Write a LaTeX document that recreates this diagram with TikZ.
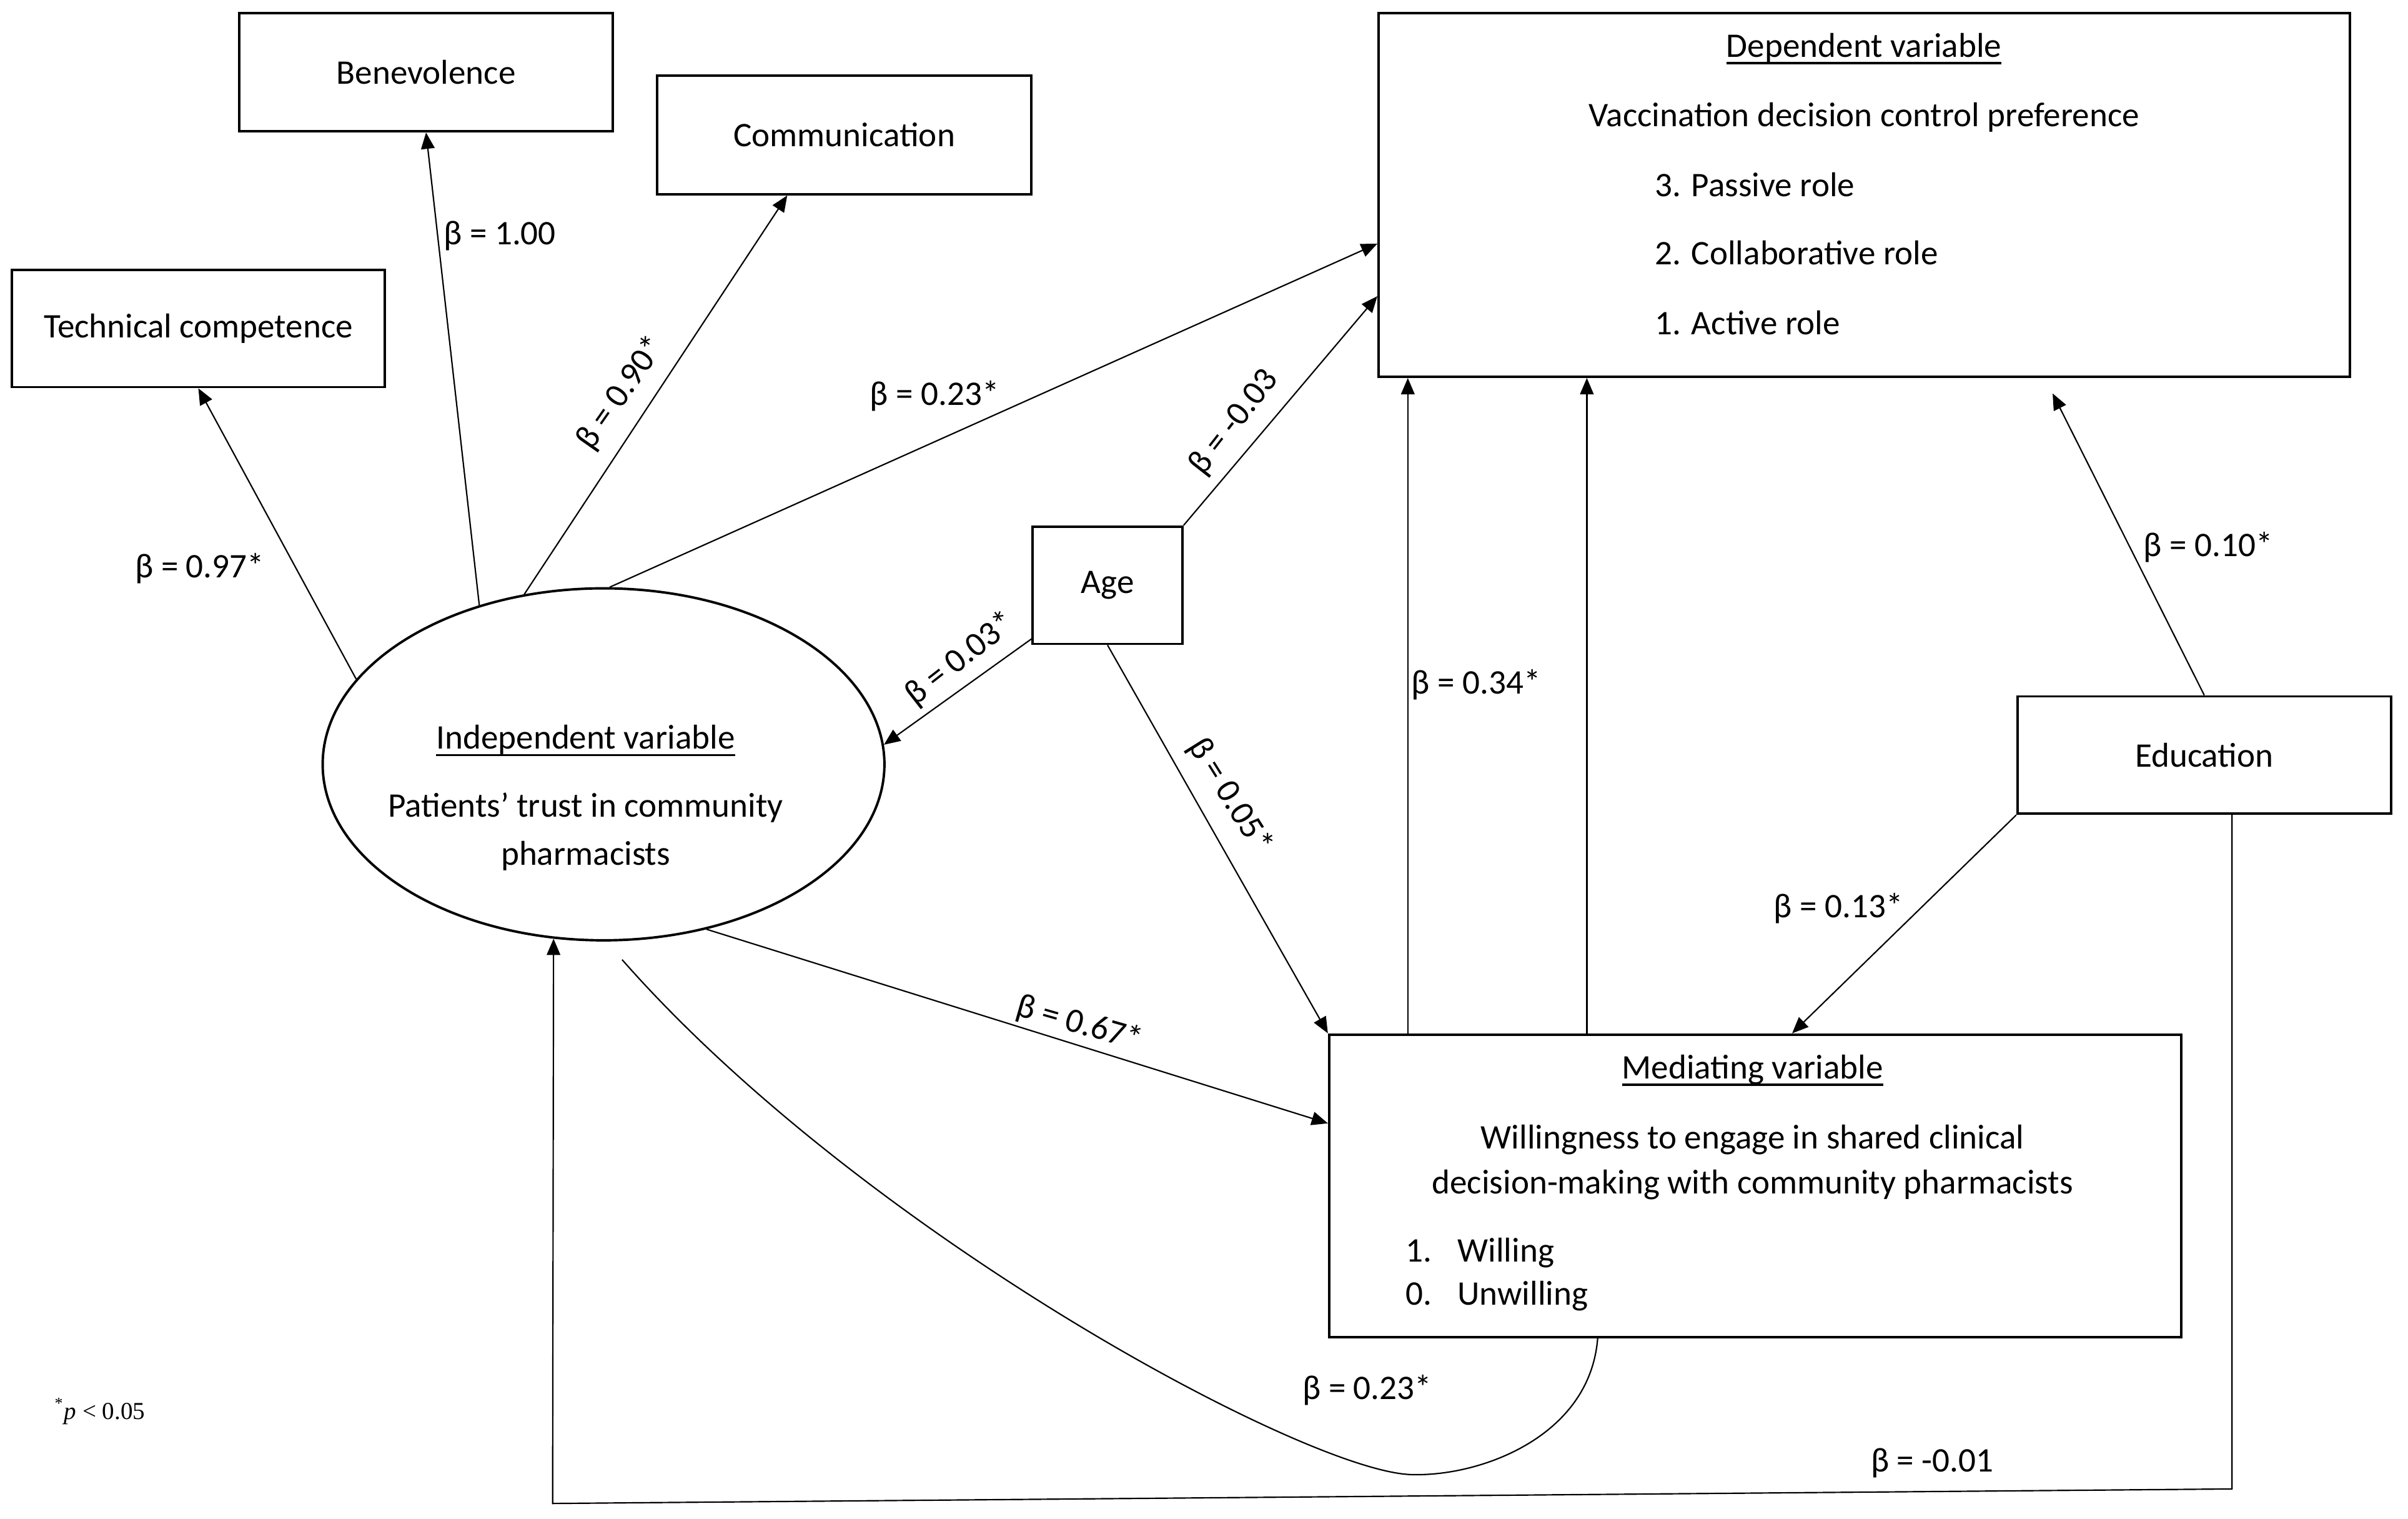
\documentclass[tikz,border=0pt]{standalone}
\usepackage{fontspec}
\setmainfont{Carlito}
\newfontfamily\notefont{Liberation Serif}
\newcommand\ulvar[1]{\setbox0\hbox{#1}\rlap{\raisebox{-2.6pt}{\rule{\wd0}{0.8pt}}}\box0}
\usetikzlibrary{arrows.meta,shapes.geometric}

\begin{document}
\begin{tikzpicture}[x=0.02cm, y=-0.02cm, font=\fontsize{12.7}{15}\selectfont,
	box/.style={draw, line width=0.9pt, inner sep=0pt},
	arr/.style={-{Triangle[length=6pt,width=5pt]}, line width=0.5pt},
	txt/.style={inner sep=0pt, text height=8pt, text depth=2pt}]
		\useasboundingbox (0,0) rectangle (1560,983.4);
		\node[box, minimum width=4.84cm, minimum height=1.53cm] (benev) at (276,46.8) {Benevolence};
		\node[box, minimum width=4.85cm, minimum height=1.54cm] (comm) at (547,87.3) {Communication};
		\node[box, minimum width=4.83cm, minimum height=1.52cm] (tech) at (128.5,212.7) {Technical competence};
		\node[box, minimum width=12.59cm, minimum height=4.71cm] (dep) at (1207.8,126.3) {};
		\node[txt] (deptitle) at (1207.6,31.8) {\ulvar{Dependent variable}};
		\node[txt] (depname) at (1207.6,76.7) {Vaccination decision control preference};
		\node[txt, anchor=west] (dep3) at (1071.8,122) {3. Passive role};
		\node[txt, anchor=west] (dep2) at (1071.8,166) {2. Collaborative role};
		\node[txt, anchor=west] (dep1) at (1071.8,211.5) {1. Active role};
		\node[box, minimum width=1.94cm, minimum height=1.52cm] (age) at (717.5,379) {Age};
		\node[box, minimum width=4.84cm, minimum height=1.52cm] (edu) at (1428,489) {Education};
		\node[box, ellipse, minimum width=7.28cm, minimum height=4.56cm] (trust) at (391,495) {};
		\node[txt] (trusttitle) at (379.4,479.8) {\ulvar{Independent variable}};
		\node[txt] (trustname1) at (379.4,524) {Patients’ trust in community};
		\node[txt] (trustname2) at (379.4,554.8) {pharmacists};
		\node[box, minimum width=11.04cm, minimum height=3.92cm] (med) at (1137,768) {};
		\node[txt] (medtitle) at (1135.4,693.4) {\ulvar{Mediating variable}};
		\node[txt] (medname1) at (1135.4,738.6) {Willingness to engage in shared clinical};
		\node[txt] (medname2) at (1135.4,767.9) {decision-making with community pharmacists};
		\node[txt, anchor=west] (med1) at (910.5,812) {\makebox[1.5em][l]{1.}Willing};
		\node[txt, anchor=west] (med0) at (910.5,839.7) {\makebox[1.5em][l]{0.}Unwilling};

		\draw[arr] (trust.161) -- (tech.south);
		\draw[arr] (trust.128) -- (benev.south);
		\draw[arr] (trust.115) -- ([xshift=-0.74cm]comm.south);
		\draw[arr] (trust.88) -- ([yshift=-0.63cm]dep.west);
		\draw[arr] (age.north east) -- ([yshift=-1.31cm]dep.west);
		\draw[arr] ([yshift=0.08cm]age.south west) -- (trust.4);
		\draw[arr] (age.south) -- (med.north west);
		\draw[arr] (trust.-58) -- ([yshift=0.81cm]med.west);
		\draw[arr] ([xshift=-4.5cm]med.north) -- ([xshift=-4.5cm]med.north |- dep.south);
		\draw[arr] ([xshift=-2.18cm]med.north) -- ([xshift=-2.18cm]med.north |- dep.south);
		\draw[arr] (edu.north) -- ([xshift=2.44cm,yshift=-0.2cm]dep.south);
		\draw[arr] (edu.south west) -- ([xshift=0.48cm]med.north);
		\draw[line width=0.5pt] ([xshift=-2.04cm]med.south) .. controls (1030,930) and (960,956) .. (915.5,955)
			.. controls (850,955) and (560,800) .. ([yshift=-0.24cm]trust.-84);
		\draw[arr] ([xshift=0.36cm]edu.south) -- ++(0,436.5) -- (358,973.7) -- (trust.-106);

		\node[txt] (b097) at (129.4,369) {β = 0.97*};
		\node[txt] (b100) at (323.8,153.3) {β = 1.00};
		\node[txt, rotate=55] (b090) at (403,255) {β = 0.90*};
		\node[txt] (b023a) at (605.4,257) {β = 0.23*};
		\node[txt, rotate=52] (bm003) at (800,274) {β = -0.03};
		\node[txt, rotate=38] (b003) at (622.8,427.5) {β = 0.03*};
		\node[txt, rotate=-58] (b005) at (796,516) {β = 0.05*};
		\node[txt, rotate=-16] (b067) at (699,664) {β = 0.67*};
		\node[txt] (b034) at (956.3,444) {β = 0.34*};
		\node[txt] (b010) at (1430.6,355) {β = 0.10*};
		\node[txt] (b013) at (1191,589) {β = 0.13*};
		\node[txt] (b023b) at (885.7,901) {β = 0.23*};
		\node[txt] (bm001) at (1251.8,948) {β = -0.01};
		\node[inner sep=0pt, font=\notefont\fontsize{9}{11}\selectfont] (note) at (64.7,914) {\textsuperscript{*}\textit{p} < 0.05};
	\end{tikzpicture}
\end{document}
